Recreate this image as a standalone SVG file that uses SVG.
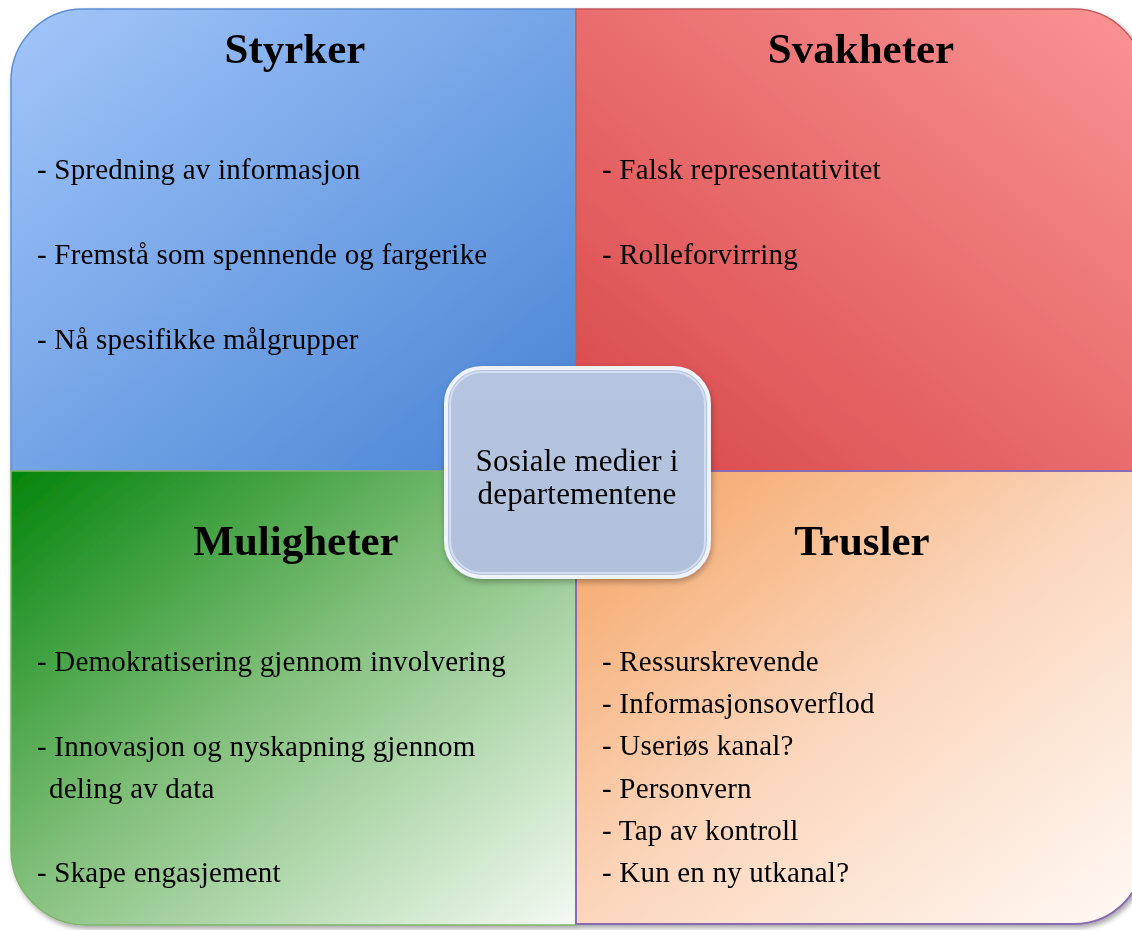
<svg xmlns="http://www.w3.org/2000/svg" width="1132" height="930" viewBox="0 0 1132 930">
<defs>
<linearGradient id="gBlue" x1="0" y1="0" x2="1" y2="1">
<stop offset="0" stop-color="#a2c6fa"/>
<stop offset="1" stop-color="#4782d3"/>
</linearGradient>
<linearGradient id="gRed" x1="1" y1="0" x2="0" y2="1">
<stop offset="0" stop-color="#fa9494"/>
<stop offset="1" stop-color="#d84648"/>
</linearGradient>
<linearGradient id="gGreen" x1="0" y1="0" x2="1" y2="1">
<stop offset="0" stop-color="#02840a"/>
<stop offset="0.45" stop-color="#7dbd76"/>
<stop offset="1" stop-color="#f4faf3"/>
</linearGradient>
<linearGradient id="gOrange" x1="0" y1="0" x2="1" y2="1">
<stop offset="0" stop-color="#f4a15f"/>
<stop offset="0.5" stop-color="#fbd6bc"/>
<stop offset="1" stop-color="#fffaf6"/>
</linearGradient>
<linearGradient id="gCenter" x1="0" y1="0" x2="0" y2="1">
<stop offset="0" stop-color="#b6c5df"/>
<stop offset="1" stop-color="#b1c1dc"/>
</linearGradient>
<filter id="sh" x="-10%" y="-10%" width="120%" height="120%">
<feDropShadow dx="2" dy="3" stdDeviation="2.5" flood-color="#000" flood-opacity="0.35"/>
</filter>
<filter id="sh2" x="-10%" y="-10%" width="120%" height="120%">
<feDropShadow dx="1" dy="3" stdDeviation="3" flood-color="#000" flood-opacity="0.3"/>
</filter>
</defs>
<style>
.title{font-family:"Liberation Serif","DejaVu Serif",serif;font-weight:bold;font-size:43px;fill:#000;text-anchor:middle}
.item{font-family:"Liberation Serif","DejaVu Serif",serif;font-size:29px;letter-spacing:0.2px;fill:#000}
.ctr{font-family:"Liberation Serif","DejaVu Serif",serif;font-size:31px;letter-spacing:0.2px;fill:#000;text-anchor:middle}
</style>
<rect width="1132" height="930" fill="#ffffff"/>
<g id="quadrants" filter="url(#sh)">
<g id="styrker">
<path d="M11,471 V82 A72,72 0 0 1 83,9 H576 V471 Z" fill="url(#gBlue)" stroke="#5f8fd2" stroke-width="1.5"/>
<text class="title" x="295" y="63">Styrker</text>
<text class="item" x="37" y="179">- Spredning av informasjon</text>
<text class="item" x="37" y="264">- Fremstå som spennende og fargerike</text>
<text class="item" x="37" y="349">- Nå spesifikke målgrupper</text>
</g>
<g id="svakheter">
<path d="M576,9 H1074 A70,70 0 0 1 1144,79 V471 H576 Z" fill="url(#gRed)" stroke="#c45b5d" stroke-width="1.5"/>
<text class="title" x="861" y="63">Svakheter</text>
<text class="item" x="602" y="179">- Falsk representativitet</text>
<text class="item" x="602" y="264">- Rolleforvirring</text>
</g>
<g id="muligheter">
<path d="M11,471 H576 V925 H86 A75,75 0 0 1 11,850 Z" fill="url(#gGreen)" stroke="#7fb26a" stroke-width="1.5"/>
<text class="title" x="296" y="555">Muligheter</text>
<text class="item" x="37" y="671">- Demokratisering gjennom involvering</text>
<text class="item" x="37" y="756">- Innovasjon og nyskapning gjennom</text>
<text class="item" x="49" y="798">deling av data</text>
<text class="item" x="37" y="882">- Skape engasjement</text>
</g>
<g id="trusler">
<path d="M576,471 H1144 V854 A70,70 0 0 1 1074,924 H576 Z" fill="url(#gOrange)" stroke="#8a6bb0" stroke-width="2"/>
<text class="title" x="862" y="555">Trusler</text>
<text class="item" x="602" y="671">- Ressurskrevende</text>
<text class="item" x="602" y="713">- Informasjonsoverflod</text>
<text class="item" x="602" y="755">- Useriøs kanal?</text>
<text class="item" x="602" y="798">- Personvern</text>
<text class="item" x="602" y="840">- Tap av kontroll</text>
<text class="item" x="602" y="882">- Kun en ny utkanal?</text>
</g>
</g>
<g id="connectors"></g>
<g id="center" filter="url(#sh2)">
<rect x="446" y="368" width="263" height="209" rx="36" ry="36" fill="url(#gCenter)" stroke="#eef3fb" stroke-width="4"/>
<rect x="450" y="372" width="255" height="201" rx="32" ry="32" fill="none" stroke="#d3def0" stroke-width="2"/>
<text class="ctr" x="577" y="471">Sosiale medier i</text>
<text class="ctr" x="577" y="504">departementene</text>
</g>
</svg>
